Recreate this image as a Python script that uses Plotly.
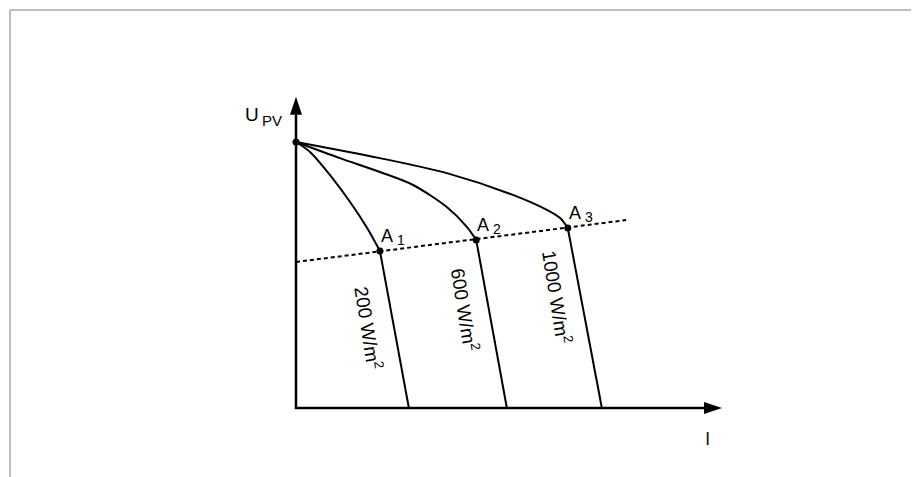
import plotly.graph_objects as go

# I-U curves of a PV module at three irradiance levels (arbitrary units)
u_oc = 9.40

curve_200_i = [0.0, 0.33, 0.80, 1.27, 1.67, 1.97]
curve_200_u = [u_oc, 9.05, 8.23, 7.28, 6.36, 5.55]
curve_600_i = [0.0, 1.03, 1.97, 2.75, 3.54, 4.01, 4.23]
curve_600_u = [u_oc, 8.83, 8.34, 7.88, 7.10, 6.40, 5.94]
curve_1000_i = [0.0, 1.97, 3.54, 5.09, 5.89, 6.20, 6.38]
curve_1000_u = [u_oc, 8.83, 8.30, 7.53, 7.00, 6.71, 6.36]

# operating points A1..A3 and short-circuit currents
points_i = [1.97, 4.23, 6.38]
points_u = [5.55, 5.94, 6.36]
point_subs = ["1", "2", "3"]
isc = [2.65, 4.95, 7.18]
irradiance = ["200 W/m<sup>2</sup>", "600 W/m<sup>2</sup>", "1000 W/m<sup>2</sup>"]
label_i = [1.71, 3.97, 6.13]
label_u = [2.83, 3.50, 3.92]

# load line (dotted)
load_i = [0.0, 7.75]
load_u = [5.16, 6.64]

# axis extents
i_max = 10.0
u_max = 11.0

# pixel scale of the drawing (page has an 8px body margin)
W, H = 919, 477
off = 8
ox, oy = 296 - off, 408 - off
px_x, px_y = 42.6, 28.3

FONT = "Liberation Sans, Arial, sans-serif"

fig = go.Figure()

curves = [(curve_200_i, curve_200_u), (curve_600_i, curve_600_u), (curve_1000_i, curve_1000_u)]
for k, (ci, cu) in enumerate(curves):
    fig.add_trace(go.Scatter(x=ci, y=cu, mode="lines",
                             line=dict(color="black", width=2, shape="spline", smoothing=0.8),
                             showlegend=False, hoverinfo="skip"))
    fig.add_trace(go.Scatter(x=[points_i[k], isc[k]], y=[points_u[k], 0], mode="lines",
                             line=dict(color="black", width=2),
                             showlegend=False, hoverinfo="skip"))

fig.add_trace(go.Scatter(x=load_i, y=load_u, mode="lines",
                         line=dict(color="black", width=2, dash="4px,3px"),
                         showlegend=False, hoverinfo="skip"))

# axes
fig.add_trace(go.Scatter(x=[0, 0, i_max - 0.3], y=[u_max - 0.5, 0, 0], mode="lines",
                         line=dict(color="black", width=2.5),
                         showlegend=False, hoverinfo="skip"))

fig.add_trace(go.Scatter(x=[0] + points_i, y=[u_oc] + points_u, mode="markers",
                         marker=dict(color="black", size=7),
                         showlegend=False, hoverinfo="skip"))

# arrow heads
hl_x, hw_x = 18 / px_x, 6 / px_y
hl_y, hw_y = 18 / px_y, 6 / px_x
fig.add_shape(type="path", xref="x", yref="y", fillcolor="black", line=dict(width=0),
              path=f"M{i_max},0 L{i_max - hl_x},{hw_x} L{i_max - hl_x},{-hw_x} Z")
fig.add_shape(type="path", xref="x", yref="y", fillcolor="black", line=dict(width=0),
              path=f"M0,{u_max} L{hw_y},{u_max - hl_y} L{-hw_y},{u_max - hl_y} Z")

# frame lines (top and left)
fx = (10 - off) / W
fy = 1 - (10 - off) / H
fig.add_shape(type="line", xref="paper", yref="paper", x0=fx, x1=1, y0=fy, y1=fy,
              line=dict(color="#aaaaaa", width=1.5))
fig.add_shape(type="line", xref="paper", yref="paper", x0=fx, x1=fx, y0=0, y1=fy,
              line=dict(color="#aaaaaa", width=1.5))

for k in range(3):
    fig.add_annotation(x=points_i[k], y=points_u[k], text="A", showarrow=False,
                       xshift=7, yshift=15, font=dict(size=18, color="black", family=FONT))
    fig.add_annotation(x=points_i[k], y=points_u[k], text=point_subs[k], showarrow=False,
                       xshift=21, yshift=11, font=dict(size=14, color="black", family=FONT))
    fig.add_annotation(x=label_i[k], y=label_u[k], text=irradiance[k], showarrow=False,
                       textangle=81, font=dict(size=19, color="black", family=FONT))

fig.add_annotation(x=-1.03, y=10.37, text="U", showarrow=False,
                   font=dict(size=19, color="black", family=FONT))
fig.add_annotation(x=-0.56, y=10.16, text="PV", showarrow=False,
                   font=dict(size=15, color="black", family=FONT))
fig.add_annotation(x=9.65, y=-1.06, text="I", showarrow=False,
                   font=dict(size=19, color="#222222", family=FONT))

fig.update_xaxes(range=[-ox / px_x, (W - ox) / px_x], visible=False)
fig.update_yaxes(range=[-(H - oy) / px_y, oy / px_y], visible=False)
fig.update_layout(width=W, height=H, margin=dict(l=0, r=0, t=0, b=0),
                  plot_bgcolor="white", paper_bgcolor="white")

fig.write_html("out.html")
